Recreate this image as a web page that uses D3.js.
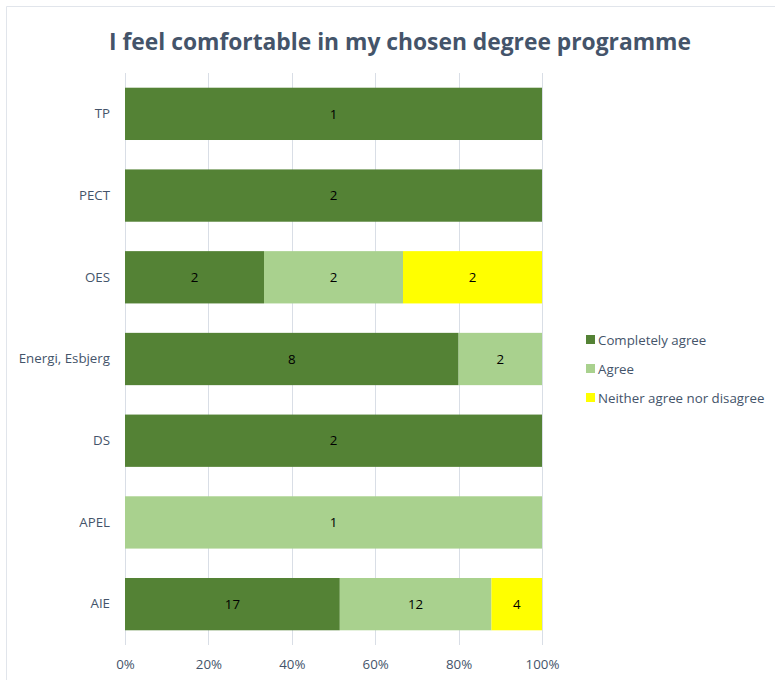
<!DOCTYPE html>
<html>
<head>
<meta charset="utf-8">
<script src="https://cdn.jsdelivr.net/npm/d3@7"></script>
<style>
  html, body { margin: 0; padding: 0; background: #ffffff; }
  svg { display: block; font-family: "Open Sans", sans-serif; }
</style>
</head>
<body>
<svg id="chart" width="775" height="680"></svg>
<script>
// Programmes, listed top to bottom
const programmes = ["TP", "PECT", "OES", "Energi, Esbjerg", "DS", "APEL", "AIE"];
// Response counts per programme
const completelyAgree = [1, 2, 2, 8, 2, 0, 17];
const agree           = [0, 0, 2, 2, 0, 1, 12];
const neither         = [0, 0, 2, 0, 0, 0, 4];
const responses = ["Completely agree", "Agree", "Neither agree nor disagree"];
const responseColors = ["#548235", "#a9d18e", "#ffff00"];
const tickValues = [0, 0.2, 0.4, 0.6, 0.8, 1.0];

const svg = d3.select("#chart");
const textColor = "#44546a";
const labelSize = 13.3;

// chart frame
svg.append("path")
  .attr("d", "M6.5,680 V6.5 H775")
  .attr("fill", "none")
  .attr("stroke", "#e1e5eb")
  .attr("stroke-width", 1);

svg.append("text")
  .attr("x", 400).attr("y", 50)
  .attr("text-anchor", "middle")
  .attr("font-size", 22.8)
  .attr("font-weight", "bold")
  .attr("fill", textColor)
  .text("I feel comfortable in my chosen degree programme");

const margin = { left: 125, right: 542, top: 73, bottom: 645 };
const x = d3.scaleLinear().domain([0, 1]).range([margin.left, margin.right]);
const y = d3.scaleBand().domain(programmes).range([margin.top, margin.bottom]).paddingInner(0.36).paddingOuter(0.18);

// gridlines
svg.append("g")
  .selectAll("line")
  .data(tickValues)
  .join("line")
  .attr("x1", d => Math.round(x(d)) + 0.5)
  .attr("x2", d => Math.round(x(d)) + 0.5)
  .attr("y1", margin.top)
  .attr("y2", margin.bottom)
  .attr("stroke", "#d9dee6")
  .attr("stroke-width", 1);

// stack the series as shares of each programme's total
const rows = programmes.map((p, i) => ({
  programme: p,
  values: [completelyAgree[i], agree[i], neither[i]]
}));
const stacked = rows.flatMap(r => {
  const total = d3.sum(r.values);
  let acc = 0;
  return r.values.map((v, k) => {
    const seg = { programme: r.programme, k, value: v, x0: acc / total, x1: (acc + v) / total };
    acc += v;
    return seg;
  }).filter(s => s.value > 0);
});

const bars = svg.append("g");
bars.selectAll("rect")
  .data(stacked)
  .join("rect")
  .attr("x", d => x(d.x0))
  .attr("width", d => x(d.x1) - x(d.x0))
  .attr("y", d => y(d.programme))
  .attr("height", y.bandwidth())
  .attr("fill", d => responseColors[d.k]);

bars.selectAll("text")
  .data(stacked)
  .join("text")
  .attr("x", d => (x(d.x0) + x(d.x1)) / 2)
  .attr("y", d => y(d.programme) + y.bandwidth() / 2)
  .attr("dy", "0.35em")
  .attr("text-anchor", "middle")
  .attr("font-size", labelSize)
  .attr("fill", "#000000")
  .text(d => d.value);

// category axis
const yAxis = svg.append("g")
  .attr("transform", `translate(${margin.left},0)`)
  .call(d3.axisLeft(y).tickSize(0).tickPadding(15));
yAxis.select(".domain").remove();
yAxis.selectAll("text")
  .attr("font-family", "Open Sans, sans-serif")
  .attr("font-size", labelSize)
  .attr("fill", textColor);

// value axis
const xAxis = svg.append("g")
  .attr("transform", `translate(0,${margin.bottom})`)
  .call(d3.axisBottom(x).tickValues(tickValues).tickFormat(d3.format(".0%")).tickSize(0).tickPadding(15));
xAxis.select(".domain").remove();
xAxis.selectAll("text")
  .attr("font-family", "Open Sans, sans-serif")
  .attr("font-size", labelSize)
  .attr("fill", textColor);

// legend
const legend = svg.append("g").attr("transform", "translate(586,340)");
const item = legend.selectAll("g")
  .data(responses)
  .join("g")
  .attr("transform", (d, i) => `translate(0,${i * 29})`);
item.append("rect")
  .attr("x", 0).attr("y", -5)
  .attr("width", 9).attr("height", 9)
  .attr("fill", (d, i) => responseColors[i]);
item.append("text")
  .attr("x", 12).attr("y", 0)
  .attr("dy", "0.35em")
  .attr("font-size", labelSize)
  .attr("fill", textColor)
  .text(d => d);
</script>
</body>
</html>
